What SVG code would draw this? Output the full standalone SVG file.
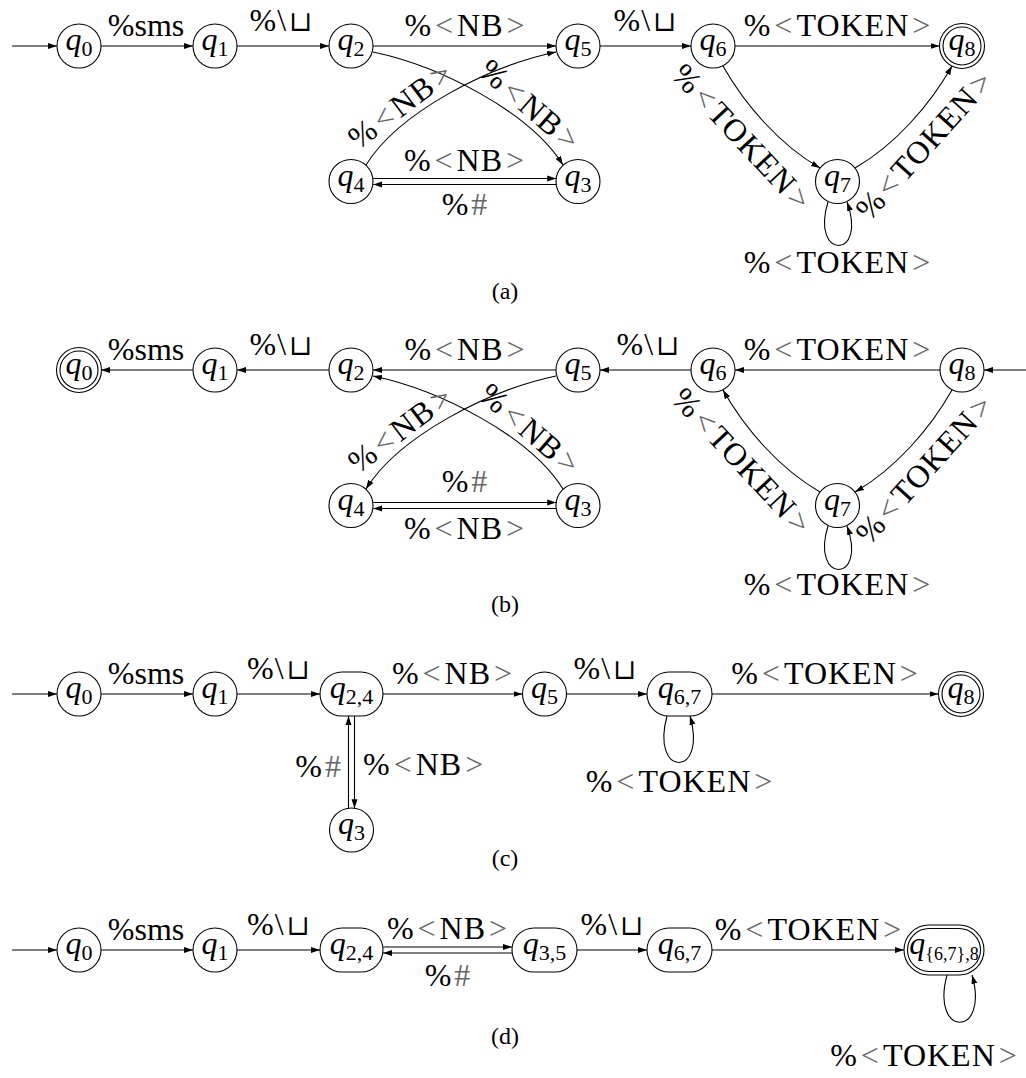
<svg xmlns="http://www.w3.org/2000/svg" width="1026" height="1078" viewBox="0 0 1026 1078">
<defs>
<style>
.nd{fill:#fff;stroke:#000;stroke-width:1.1}
.ed{fill:none;stroke:#000;stroke-width:1.1;marker-end:url(#ah)}
.lb{font-family:"Liberation Serif",serif;font-size:32px;fill:#000}
.ls{letter-spacing:1px}
.mid{text-anchor:middle}
.end{text-anchor:end}
.gr{fill:#666}
.sq{font-family:"DejaVu Sans","DejaVu Serif",sans-serif;font-weight:200;font-size:28px}
.nl{font-family:"Liberation Serif",serif;font-style:italic;font-size:32px;text-anchor:middle;fill:#000}
.sb{font-style:normal;font-size:22px}
.sb2{font-style:normal;font-size:18px}
.cp{font-family:"Liberation Serif",serif;font-size:24px;text-anchor:middle;fill:#000}
</style>
<marker id="ah" markerUnits="userSpaceOnUse" markerWidth="10" markerHeight="8" viewBox="0 0 10 8" refX="9" refY="4" orient="auto">
<path d="M0,1 L9,4 L0,7 Z" fill="#000"/>
</marker>
</defs>
<rect width="1026" height="1078" fill="#fff"/>

<!-- ============ Panel (a) ============ -->
<g id="a-edges">
<path class="ed" d="M12,46 H57"/>
<path class="ed" d="M101,46 H193"/>
<path class="ed" d="M237,46 H329"/>
<path class="ed" d="M373,46 H556"/>
<path class="ed" d="M600,46 H691"/>
<path class="ed" d="M735,46 H939.5"/>
<path class="ed" d="M373,52 C440,66 530,112 563,165"/>
<path class="ed" d="M366,165 C399,112 489,66 556,52"/>
<path class="ed" d="M373.3,178.5 H556.2"/>
<path class="ed" d="M556.2,184.5 H373.3"/>
<path class="ed" d="M723,66 C745,105 780,145 820,168"/>
<path class="ed" d="M855,168 C895,145 930,105 952,66"/>
<path class="ed" d="M828,202 C810,260 868,260 847,202"/>
</g>
<g id="a-labels">
<text class="lb mid" x="146" y="36">%sms</text>
<text class="lb mid" x="281" y="31">%<tspan dx="1">\</tspan><tspan class="sq" dx="3">⊔</tspan></text>
<text class="lb ls mid" x="465" y="36">%<tspan class="gr" dx="3">&lt;</tspan><tspan dx="3">NB</tspan><tspan class="gr" dx="3">&gt;</tspan></text>
<text class="lb mid" x="645" y="31">%<tspan dx="1">\</tspan><tspan class="sq" dx="3">⊔</tspan></text>
<text class="lb ls mid" x="837.5" y="36">%<tspan class="gr" dx="3">&lt;</tspan><tspan dx="3">TOKEN</tspan><tspan class="gr" dx="3">&gt;</tspan></text>
<text class="lb ls mid" x="464.5" y="171">%<tspan class="gr" dx="3">&lt;</tspan><tspan dx="3">NB</tspan><tspan class="gr" dx="3">&gt;</tspan></text>
<text class="lb mid" x="464.5" y="215">%<tspan class="gr" dx="3">#</tspan></text>
<text class="lb ls mid" transform="translate(400,105) rotate(-37)" y="11">%<tspan class="gr" dx="3">&lt;</tspan><tspan dx="3">NB</tspan><tspan class="gr" dx="3">&gt;</tspan></text>
<text class="lb ls mid" transform="translate(530,105) rotate(41)" y="11">%<tspan class="gr" dx="3">&lt;</tspan><tspan dx="3">NB</tspan><tspan class="gr" dx="3">&gt;</tspan></text>
<text class="lb ls mid" transform="translate(742,137) rotate(47)" y="11">%<tspan class="gr" dx="3">&lt;</tspan><tspan dx="3">TOKEN</tspan><tspan class="gr" dx="3">&gt;</tspan></text>
<text class="lb ls mid" transform="translate(924,145) rotate(-48)" y="11">%<tspan class="gr" dx="3">&lt;</tspan><tspan dx="3">TOKEN</tspan><tspan class="gr" dx="3">&gt;</tspan></text>
<text class="lb ls mid" x="837.5" y="273">%<tspan class="gr" dx="3">&lt;</tspan><tspan dx="3">TOKEN</tspan><tspan class="gr" dx="3">&gt;</tspan></text>
<text class="cp" x="505" y="299">(a)</text>
</g>
<g id="a-q0"><circle class="nd" cx="79" cy="46" r="22"/><text class="nl" x="79" y="50">q<tspan class="sb" dy="6">0</tspan></text></g>
<g id="a-q1"><circle class="nd" cx="215" cy="46" r="22"/><text class="nl" x="215" y="50">q<tspan class="sb" dy="6">1</tspan></text></g>
<g id="a-q2"><circle class="nd" cx="351" cy="46" r="22"/><text class="nl" x="351" y="50">q<tspan class="sb" dy="6">2</tspan></text></g>
<g id="a-q5"><circle class="nd" cx="578" cy="46" r="22"/><text class="nl" x="578" y="50">q<tspan class="sb" dy="6">5</tspan></text></g>
<g id="a-q6"><circle class="nd" cx="713" cy="46" r="22"/><text class="nl" x="713" y="50">q<tspan class="sb" dy="6">6</tspan></text></g>
<g id="a-q8"><circle class="nd" cx="962" cy="46" r="22.5"/><circle class="nd" cx="962" cy="46" r="19"/><text class="nl" x="962" y="50">q<tspan class="sb" dy="6">8</tspan></text></g>
<g id="a-q4"><circle class="nd" cx="351" cy="181.5" r="22"/><text class="nl" x="351" y="185.5">q<tspan class="sb" dy="6">4</tspan></text></g>
<g id="a-q3"><circle class="nd" cx="578" cy="181.5" r="22"/><text class="nl" x="578" y="185.5">q<tspan class="sb" dy="6">3</tspan></text></g>
<g id="a-q7"><circle class="nd" cx="837.5" cy="181.5" r="22"/><text class="nl" x="837.5" y="185.5">q<tspan class="sb" dy="6">7</tspan></text></g>

<!-- ============ Panel (b) ============ -->
<g id="b-edges">
<path class="ed" d="M193,370 H101"/>
<path class="ed" d="M329,370 H237"/>
<path class="ed" d="M556,370 H373"/>
<path class="ed" d="M691,370 H600"/>
<path class="ed" d="M940,370 H735"/>
<path class="ed" d="M1026,370 H984"/>
<path class="ed" d="M563,489 C530,436 440,390 373,376"/>
<path class="ed" d="M556,376 C489,390 399,436 366,489"/>
<path class="ed" d="M373.3,502.5 H556.2"/>
<path class="ed" d="M556.2,508.5 H373.3"/>
<path class="ed" d="M952,390 C930,429 895,469 855,492"/>
<path class="ed" d="M820,492 C780,469 745,429 723,390"/>
<path class="ed" d="M828,526 C810,584 868,584 847,526"/>
</g>
<g id="b-labels">
<text class="lb mid" x="146" y="360">%sms</text>
<text class="lb mid" x="281" y="355">%<tspan dx="1">\</tspan><tspan class="sq" dx="3">⊔</tspan></text>
<text class="lb ls mid" x="465" y="360">%<tspan class="gr" dx="3">&lt;</tspan><tspan dx="3">NB</tspan><tspan class="gr" dx="3">&gt;</tspan></text>
<text class="lb mid" x="648" y="355">%<tspan dx="1">\</tspan><tspan class="sq" dx="3">⊔</tspan></text>
<text class="lb ls mid" x="837.5" y="360">%<tspan class="gr" dx="3">&lt;</tspan><tspan dx="3">TOKEN</tspan><tspan class="gr" dx="3">&gt;</tspan></text>
<text class="lb mid" x="464.5" y="492">%<tspan class="gr" dx="3">#</tspan></text>
<text class="lb ls mid" x="464.5" y="539">%<tspan class="gr" dx="3">&lt;</tspan><tspan dx="3">NB</tspan><tspan class="gr" dx="3">&gt;</tspan></text>
<text class="lb ls mid" transform="translate(400,429) rotate(-37)" y="11">%<tspan class="gr" dx="3">&lt;</tspan><tspan dx="3">NB</tspan><tspan class="gr" dx="3">&gt;</tspan></text>
<text class="lb ls mid" transform="translate(530,429) rotate(41)" y="11">%<tspan class="gr" dx="3">&lt;</tspan><tspan dx="3">NB</tspan><tspan class="gr" dx="3">&gt;</tspan></text>
<text class="lb ls mid" transform="translate(742,461) rotate(47)" y="11">%<tspan class="gr" dx="3">&lt;</tspan><tspan dx="3">TOKEN</tspan><tspan class="gr" dx="3">&gt;</tspan></text>
<text class="lb ls mid" transform="translate(924,469) rotate(-48)" y="11">%<tspan class="gr" dx="3">&lt;</tspan><tspan dx="3">TOKEN</tspan><tspan class="gr" dx="3">&gt;</tspan></text>
<text class="lb ls mid" x="837.5" y="595">%<tspan class="gr" dx="3">&lt;</tspan><tspan dx="3">TOKEN</tspan><tspan class="gr" dx="3">&gt;</tspan></text>
<text class="cp" x="505" y="612">(b)</text>
</g>
<g id="b-q0"><circle class="nd" cx="79" cy="370" r="22.5"/><circle class="nd" cx="79" cy="370" r="19"/><text class="nl" x="79" y="374">q<tspan class="sb" dy="6">0</tspan></text></g>
<g id="b-q1"><circle class="nd" cx="215" cy="370" r="22"/><text class="nl" x="215" y="374">q<tspan class="sb" dy="6">1</tspan></text></g>
<g id="b-q2"><circle class="nd" cx="351" cy="370" r="22"/><text class="nl" x="351" y="374">q<tspan class="sb" dy="6">2</tspan></text></g>
<g id="b-q5"><circle class="nd" cx="578" cy="370" r="22"/><text class="nl" x="578" y="374">q<tspan class="sb" dy="6">5</tspan></text></g>
<g id="b-q6"><circle class="nd" cx="713" cy="370" r="22"/><text class="nl" x="713" y="374">q<tspan class="sb" dy="6">6</tspan></text></g>
<g id="b-q8"><circle class="nd" cx="962" cy="370" r="22"/><text class="nl" x="962" y="374">q<tspan class="sb" dy="6">8</tspan></text></g>
<g id="b-q4"><circle class="nd" cx="351" cy="505.5" r="22"/><text class="nl" x="351" y="509.5">q<tspan class="sb" dy="6">4</tspan></text></g>
<g id="b-q3"><circle class="nd" cx="578" cy="505.5" r="22"/><text class="nl" x="578" y="509.5">q<tspan class="sb" dy="6">3</tspan></text></g>
<g id="b-q7"><circle class="nd" cx="837.5" cy="505.5" r="22"/><text class="nl" x="837.5" y="509.5">q<tspan class="sb" dy="6">7</tspan></text></g>

<!-- ============ Panel (c) ============ -->
<g id="c-edges">
<path class="ed" d="M12,694 H57"/>
<path class="ed" d="M101,694 H193"/>
<path class="ed" d="M237,694 H320"/>
<path class="ed" d="M383,694 H522.5"/>
<path class="ed" d="M566.5,694 H647"/>
<path class="ed" d="M712,694 H938.5"/>
<path class="ed" d="M348.5,808.3 V716"/>
<path class="ed" d="M354.5,716 V808.3"/>
<path class="ed" d="M667,716 C650,778 708,778 690,716"/>
</g>
<g id="c-labels">
<text class="lb mid" x="146" y="684">%sms</text>
<text class="lb mid" x="278.5" y="679">%<tspan dx="1">\</tspan><tspan class="sq" dx="3">⊔</tspan></text>
<text class="lb ls mid" x="452.5" y="684">%<tspan class="gr" dx="3">&lt;</tspan><tspan dx="3">NB</tspan><tspan class="gr" dx="3">&gt;</tspan></text>
<text class="lb mid" x="605" y="679">%<tspan dx="1">\</tspan><tspan class="sq" dx="3">⊔</tspan></text>
<text class="lb ls mid" x="825" y="684">%<tspan class="gr" dx="3">&lt;</tspan><tspan dx="3">TOKEN</tspan><tspan class="gr" dx="3">&gt;</tspan></text>
<text class="lb end" x="341" y="777">%<tspan class="gr" dx="3">#</tspan></text>
<text class="lb ls" x="363" y="775">%<tspan class="gr" dx="3">&lt;</tspan><tspan dx="3">NB</tspan><tspan class="gr" dx="3">&gt;</tspan></text>
<text class="lb ls mid" x="679.5" y="792">%<tspan class="gr" dx="3">&lt;</tspan><tspan dx="3">TOKEN</tspan><tspan class="gr" dx="3">&gt;</tspan></text>
<text class="cp" x="505" y="866">(c)</text>
</g>
<g id="c-q0"><circle class="nd" cx="79" cy="694" r="22"/><text class="nl" x="79" y="698">q<tspan class="sb" dy="6">0</tspan></text></g>
<g id="c-q1"><circle class="nd" cx="215" cy="694" r="22"/><text class="nl" x="215" y="698">q<tspan class="sb" dy="6">1</tspan></text></g>
<g id="c-q24"><rect class="nd" x="320" y="672" width="63" height="44" rx="22"/><text class="nl" x="351.5" y="698">q<tspan class="sb" dy="6">2,4</tspan></text></g>
<g id="c-q5"><circle class="nd" cx="544.5" cy="694" r="22"/><text class="nl" x="544.5" y="698">q<tspan class="sb" dy="6">5</tspan></text></g>
<g id="c-q67"><rect class="nd" x="647" y="672" width="65" height="44" rx="22"/><text class="nl" x="679.5" y="698">q<tspan class="sb" dy="6">6,7</tspan></text></g>
<g id="c-q8"><circle class="nd" cx="961" cy="694" r="22.5"/><circle class="nd" cx="961" cy="694" r="19"/><text class="nl" x="961" y="698">q<tspan class="sb" dy="6">8</tspan></text></g>
<g id="c-q3"><circle class="nd" cx="351.5" cy="830" r="22"/><text class="nl" x="351.5" y="834">q<tspan class="sb" dy="6">3</tspan></text></g>

<!-- ============ Panel (d) ============ -->
<g id="d-edges">
<path class="ed" d="M12,950 H57"/>
<path class="ed" d="M101,950 H193"/>
<path class="ed" d="M237,950 H320"/>
<path class="ed" d="M383,947 H512"/>
<path class="ed" d="M512,953 H383"/>
<path class="ed" d="M577,950 H647"/>
<path class="ed" d="M712,950 H904"/>
<path class="ed" d="M947,975 C930,1038 990,1038 972,975"/>
</g>
<g id="d-labels">
<text class="lb mid" x="146" y="940">%sms</text>
<text class="lb mid" x="278.5" y="935">%<tspan dx="1">\</tspan><tspan class="sq" dx="3">⊔</tspan></text>
<text class="lb ls mid" x="447.5" y="939">%<tspan class="gr" dx="3">&lt;</tspan><tspan dx="3">NB</tspan><tspan class="gr" dx="3">&gt;</tspan></text>
<text class="lb mid" x="447.5" y="986">%<tspan class="gr" dx="3">#</tspan></text>
<text class="lb mid" x="612" y="935">%<tspan dx="1">\</tspan><tspan class="sq" dx="3">⊔</tspan></text>
<text class="lb ls mid" x="808.5" y="940">%<tspan class="gr" dx="3">&lt;</tspan><tspan dx="3">TOKEN</tspan><tspan class="gr" dx="3">&gt;</tspan></text>
<text class="lb ls mid" x="924" y="1066">%<tspan class="gr" dx="3">&lt;</tspan><tspan dx="3">TOKEN</tspan><tspan class="gr" dx="3">&gt;</tspan></text>
<text class="cp" x="505" y="1044">(d)</text>
</g>
<g id="d-q0"><circle class="nd" cx="79" cy="950" r="22"/><text class="nl" x="79" y="954">q<tspan class="sb" dy="6">0</tspan></text></g>
<g id="d-q1"><circle class="nd" cx="215" cy="950" r="22"/><text class="nl" x="215" y="954">q<tspan class="sb" dy="6">1</tspan></text></g>
<g id="d-q24"><rect class="nd" x="320" y="928" width="63" height="44" rx="22"/><text class="nl" x="351.5" y="954">q<tspan class="sb" dy="6">2,4</tspan></text></g>
<g id="d-q35"><rect class="nd" x="512" y="928" width="65" height="44" rx="22"/><text class="nl" x="544.5" y="954">q<tspan class="sb" dy="6">3,5</tspan></text></g>
<g id="d-q67"><rect class="nd" x="647" y="928" width="65" height="44" rx="22"/><text class="nl" x="679.5" y="954">q<tspan class="sb" dy="6">6,7</tspan></text></g>
<g id="d-q678"><rect class="nd" x="904" y="925" width="80" height="50" rx="25"/><rect class="nd" x="907.5" y="928.5" width="73" height="43" rx="21.5"/><text class="nl" x="944" y="954">q<tspan class="sb2" dy="6">{6,7},8</tspan></text></g>
</svg>
